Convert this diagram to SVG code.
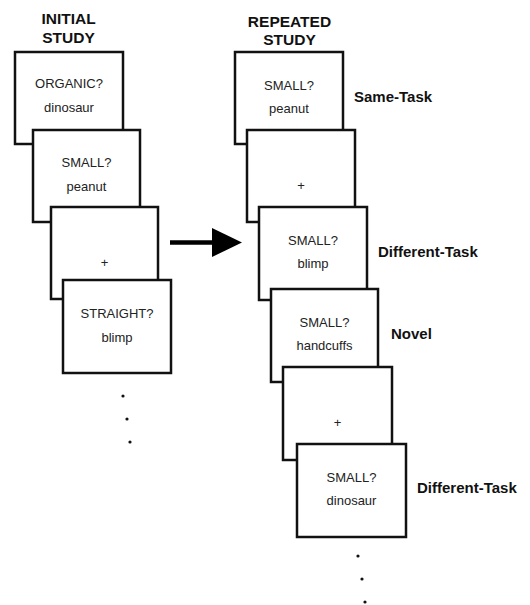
<svg xmlns="http://www.w3.org/2000/svg" width="530" height="605" viewBox="0 0 530 605">
<style>
.box{fill:#fff;stroke:#111;stroke-width:2.5}
.t{font-family:"Liberation Sans",Arial,sans-serif;font-size:13px;fill:#222;text-anchor:middle}
.h{font-family:"Liberation Sans",Arial,sans-serif;font-size:15.5px;font-weight:bold;fill:#111;text-anchor:middle}
.l{font-family:"Liberation Sans",Arial,sans-serif;font-size:15px;font-weight:bold;fill:#111}
.dot{fill:#111}
</style>
<rect width="530" height="605" fill="#fff"/>
<g id="title-initial">
<text class="h" x="68.5" y="24">INITIAL</text>
<text class="h" x="68.5" y="43">STUDY</text>
</g>
<g id="title-repeated">
<text class="h" x="289.5" y="27">REPEATED</text>
<text class="h" x="289.5" y="45">STUDY</text>
</g>
<g id="L1"><rect class="box" x="15" y="52" width="108" height="92"/><text class="t" x="69" y="88">ORGANIC?</text><text class="t" x="69" y="112">dinosaur</text></g>
<g id="L2"><rect class="box" x="33" y="130" width="107" height="92"/><text class="t" x="86.5" y="167">SMALL?</text><text class="t" x="86.5" y="191">peanut</text></g>
<g id="L3"><rect class="box" x="51" y="207" width="107" height="92"/><text class="t" x="104.5" y="267">+</text></g>
<g id="L4"><rect class="box" x="63" y="280" width="108" height="93"/><text class="t" x="117" y="318">STRAIGHT?</text><text class="t" x="117" y="342">blimp</text></g>
<g id="L-dots"><circle class="dot" cx="123" cy="396" r="1.6"/><circle class="dot" cx="127" cy="419" r="1.6"/><circle class="dot" cx="130" cy="442" r="1.6"/></g>
<g id="R1"><rect class="box" x="235" y="52" width="108" height="92"/><text class="t" x="289" y="90">SMALL?</text><text class="t" x="289" y="113">peanut</text></g>
<g id="R2"><rect class="box" x="247" y="130" width="108" height="92"/><text class="t" x="301" y="190">+</text></g>
<g id="R3"><rect class="box" x="259" y="207" width="108" height="93"/><text class="t" x="313" y="245">SMALL?</text><text class="t" x="313" y="268">blimp</text></g>
<g id="R4"><rect class="box" x="271" y="289" width="107" height="93"/><text class="t" x="324.5" y="327">SMALL?</text><text class="t" x="324.5" y="350">handcuffs</text></g>
<g id="R5"><rect class="box" x="283" y="367" width="109" height="93"/><text class="t" x="337.5" y="427">+</text></g>
<g id="R6"><rect class="box" x="297" y="444" width="109" height="93"/><text class="t" x="351.5" y="482">SMALL?</text><text class="t" x="351.5" y="505">dinosaur</text></g>
<g id="R-dots"><circle class="dot" cx="358" cy="556" r="1.6"/><circle class="dot" cx="362" cy="579" r="1.6"/><circle class="dot" cx="365" cy="602" r="1.6"/></g>
<g id="labels">
<text class="l" x="354" y="102">Same-Task</text>
<text class="l" x="378" y="257">Different-Task</text>
<text class="l" x="391" y="339">Novel</text>
<text class="l" x="417" y="493">Different-Task</text>
</g>
<g id="connectors">
<line x1="170" y1="242.5" x2="214" y2="242.5" stroke="#000" stroke-width="4.5"/>
<polygon points="212,228 242,242.5 212,257" fill="#000"/>
</g>
</svg>
